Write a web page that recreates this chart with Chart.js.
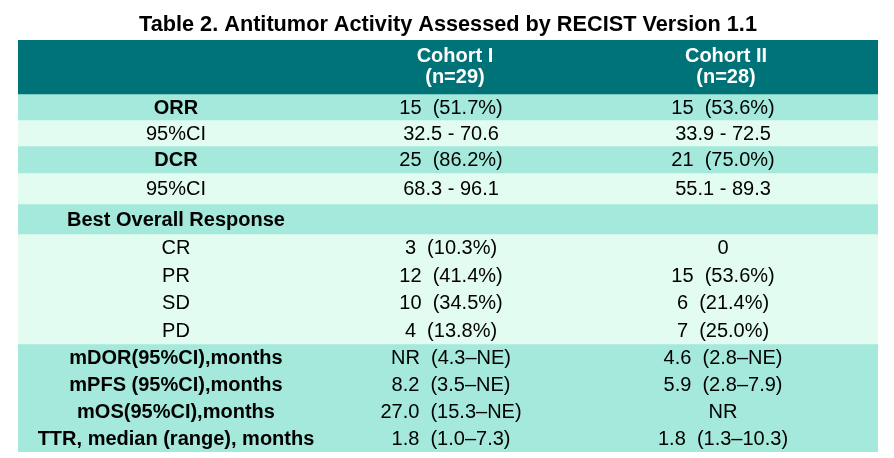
<!DOCTYPE html>
<html>
<head>
<meta charset="utf-8">
<script src="https://cdn.jsdelivr.net/npm/chart.js@4.4.1/dist/chart.umd.min.js"></script>
<style>
  html, body { margin: 0; padding: 0; background: #fff; }
  #wrap { width: 894px; height: 458px; position: relative; }
</style>
</head>
<body>
<div id="wrap"><canvas id="tableChart"></canvas></div>
<script>
// table content
const titleText = 'Table 2. Antitumor Activity Assessed by RECIST Version 1.1';
const headerLines = [['Cohort I', '(n=29)'], ['Cohort II', '(n=28)']];
const rowLabels = ['ORR', '95%CI', 'DCR', '95%CI', 'Best Overall Response', 'CR', 'PR', 'SD', 'PD',
	'mDOR(95%CI),months', 'mPFS (95%CI),months', 'mOS(95%CI),months', 'TTR, median (range), months'];
const cohortI = ['15  (51.7%)', '32.5 - 70.6', '25  (86.2%)', '68.3 - 96.1', '', '3  (10.3%)', '12  (41.4%)',
	'10  (34.5%)', '4  (13.8%)', 'NR  (4.3\u2013NE)', '8.2  (3.5\u2013NE)', '27.0  (15.3\u2013NE)', '1.8  (1.0\u20137.3)'];
const cohortII = ['15  (53.6%)', '33.9 - 72.5', '21  (75.0%)', '55.1 - 89.3', '', '0', '15  (53.6%)',
	'6  (21.4%)', '7  (25.0%)', '4.6  (2.8\u2013NE)', '5.9  (2.8\u20137.9)', 'NR', '1.8  (1.3\u201310.3)'];

// layout / style (not data)
const headerHeight = 54;
const rowHeights = [26, 26, 27, 31, 30, 27.5, 27.5, 27.5, 27.5, 27, 27, 27, 27];
const boldLabel = [true, false, true, false, true, false, false, false, false, true, true, true, true];
const DARK = '#007378', MID = '#a4e9db', LIGHT = '#e2fcf2';
const rowFills = [MID, LIGHT, MID, LIGHT, MID, LIGHT, LIGHT, LIGHT, LIGHT, MID, MID, MID, MID];
const colCenters = [0.1837, 0.5035, 0.8198];
const headCenters = [0.5081, 0.8233];
const FONT = '"Liberation Sans", Arial, sans-serif';

const allHeights = [headerHeight, ...rowHeights];
const totalHeight = allHeights.reduce((a, b) => a + b, 0);

const datasets = allHeights.map((h, i) => ({
	data: [h],
	backgroundColor: i === 0 ? DARK : rowFills[i - 1],
	borderWidth: 0,
	stack: 'table',
	categoryPercentage: 1,
	barPercentage: 1
}));

const cellText = {
	id: 'cellText',
	afterDatasetsDraw(chart) {
		const ctx = chart.ctx;
		const y = chart.scales.y;
		const col = chart.scales.col;
		ctx.save();
		ctx.textAlign = 'center';
		ctx.textBaseline = 'middle';

		// header
		const hMid = y.getPixelForValue(headerHeight / 2);
		ctx.fillStyle = '#fff';
		ctx.font = 'bold 20px ' + FONT;
		headerLines.forEach((lines, c) => {
			const x = col.getPixelForValue(headCenters[c]);
			ctx.fillText(lines[0], x, hMid - 10.5);
			ctx.fillText(lines[1], x, hMid + 10.5);
		});
		let top = headerHeight;

		ctx.fillStyle = '#000';
		rowLabels.forEach((label, i) => {
			const yc = y.getPixelForValue(top + rowHeights[i] / 2) + 1;
			ctx.font = (boldLabel[i] ? 'bold ' : '') + '20px ' + FONT;
			ctx.fillText(label, col.getPixelForValue(colCenters[0]), yc);
			ctx.font = '20px ' + FONT;
			ctx.fillText(cohortI[i], col.getPixelForValue(colCenters[1]), yc);
			ctx.fillText(cohortII[i], col.getPixelForValue(colCenters[2]), yc);
			top += rowHeights[i];
		});
		ctx.restore();
	}
};

new Chart(document.getElementById('tableChart'), {
	type: 'bar',
	data: { labels: ['table'], datasets },
	options: {
		responsive: true,
		maintainAspectRatio: false,
		animation: false,
		layout: { padding: { left: 18, right: 16, top: 0, bottom: 6 } },
		scales: {
			x: { display: false, stacked: true, grid: { display: false } },
			y: { display: false, stacked: true, reverse: true, min: 0, max: totalHeight },
			col: { type: 'linear', axis: 'x', position: 'top', display: false, offset: false, min: 0, max: 1 }
		},
		plugins: {
			legend: { display: false },
			tooltip: { enabled: false },
			title: {
				display: true,
				text: titleText,
				color: '#000',
				font: { family: FONT, size: 21.7, weight: 'bold', lineHeight: 1.2 },
				padding: { top: 12, bottom: 1.96 }
			}
		}
	},
	plugins: [cellText]
});
</script>
</body>
</html>
